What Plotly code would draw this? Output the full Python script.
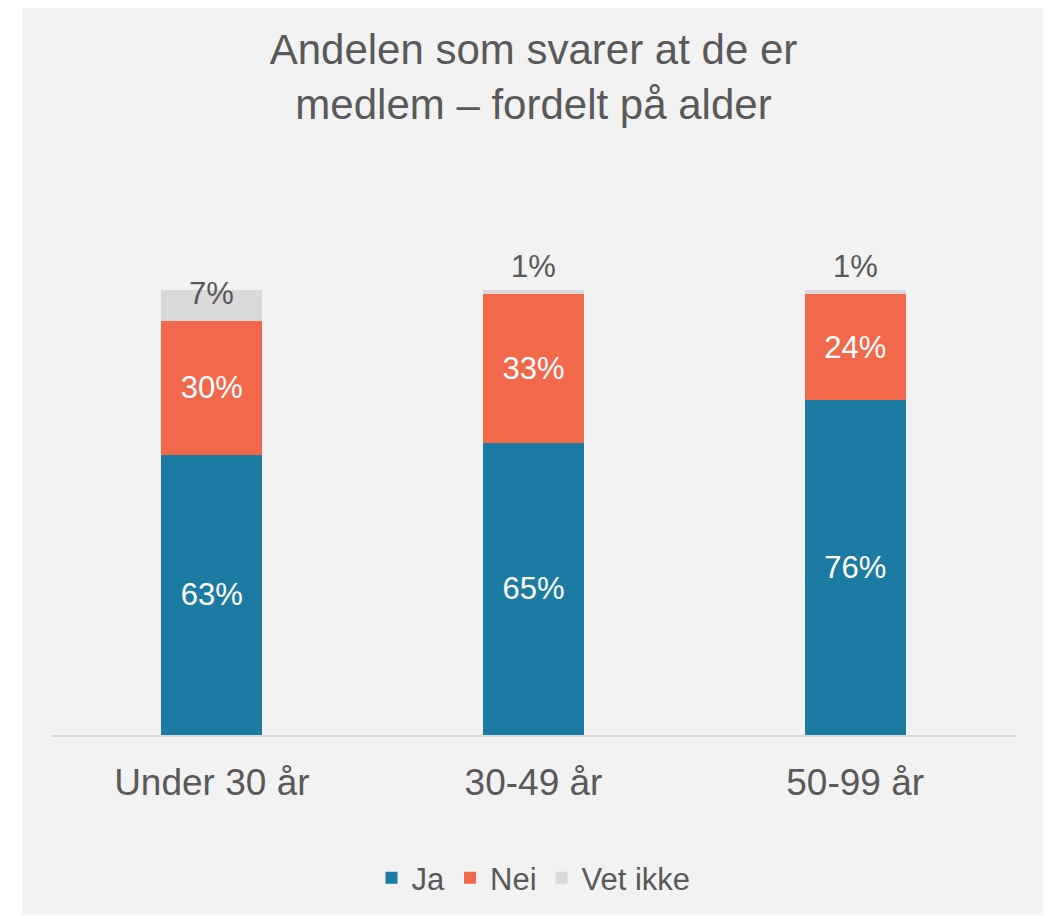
import plotly.graph_objects as go

categories = ["Under 30 år", "30-49 år", "50-99 år"]
ja = [63, 65, 76]
nei = [30, 33, 24]
vet_ikke = [7, 1, 1]
title_text = "Andelen som svarer at de er<br>medlem – fordelt på alder"

colors = {"Ja": "#1C7BA2", "Nei": "#F2684B", "Vet ikke": "#D9D9D9"}
text_gray = "#595959"
font_family = "Liberation Sans, Arial, sans-serif"

# page body has an 8px margin; figure coordinates are screen - 8
OFF = 8
W, H = 1051 - OFF, 916 - OFF
ml, mr, mt, mb = 51 - OFF, W - (1016 - OFF), 170 - OFF, H - (736 - OFF)
plot_w = W - ml - mr
plot_h = H - mt - mb
base_y = H - mb
ymax = plot_h / 446 * 100

fig = go.Figure()
for name, vals in [("Ja", ja), ("Nei", nei)]:
    fig.add_trace(go.Bar(
        x=categories, y=vals, name=name,
        marker=dict(color=colors[name], line=dict(width=0)),
        text=[f"{v}%" for v in vals], textposition="inside",
        insidetextanchor="middle", constraintext="none",
        textfont=dict(color="white", size=31, family=font_family),
        width=0.314, hoverinfo="skip",
    ))
fig.add_trace(go.Bar(
    x=categories, y=vet_ikke, name="Vet ikke",
    marker=dict(color=colors["Vet ikke"], line=dict(width=0)),
    width=0.314, hoverinfo="skip",
))

annotations = []
for c, a, b, v in zip(categories, ja, nei, vet_ikke):
    tot = a + b + v
    if v >= 5:
        annotations.append(dict(x=c, y=(a + b + v / 2) / tot * 100, text=f"{v}%", showarrow=False,
                                yanchor="middle", yshift=12,
                                font=dict(size=31, color=text_gray, family=font_family)))
    else:
        annotations.append(dict(x=c, y=100, text=f"{v}%", showarrow=False,
                                yanchor="bottom", yshift=4,
                                font=dict(size=31, color=text_gray, family=font_family)))

fig.update_layout(
    width=W, height=H,
    margin=dict(l=ml, r=mr, t=mt, b=mb, pad=0),
    barmode="stack", barnorm="percent",
    paper_bgcolor="white",
    plot_bgcolor="rgba(0,0,0,0)",
    font=dict(family=font_family, color=text_gray),
    title=dict(text=title_text, x=0.5, xref="paper", xanchor="center",
               y=1 - 56 / H, yref="container", yanchor="middle",
               font=dict(size=42, color=text_gray, family=font_family)),
    xaxis=dict(showgrid=False, showline=True, linecolor="#D9D9D9", linewidth=1.5,
               ticks="", tickfont=dict(size=37, color=text_gray, family=font_family),
               ticklabelstandoff=14),
    yaxis=dict(range=[0, ymax], visible=False, showgrid=False, zeroline=False),
    legend=dict(orientation="h", x=0.5, xanchor="center", y=(base_y - (878 - OFF)) / plot_h,
                yanchor="middle", font=dict(size=31, color=text_gray, family=font_family),
                bgcolor="rgba(0,0,0,0)", itemwidth=30, traceorder="normal"),
    annotations=annotations,
    shapes=[dict(type="rect", xref="paper", yref="paper", layer="below",
                 x0=(22 - OFF - ml) / plot_w, x1=(1046 - OFF - ml) / plot_w,
                 y0=(base_y - H) / plot_h, y1=(base_y - (5 - OFF)) / plot_h,
                 fillcolor="#F2F2F2", line=dict(width=0))],
)

fig.write_html("out.html")
